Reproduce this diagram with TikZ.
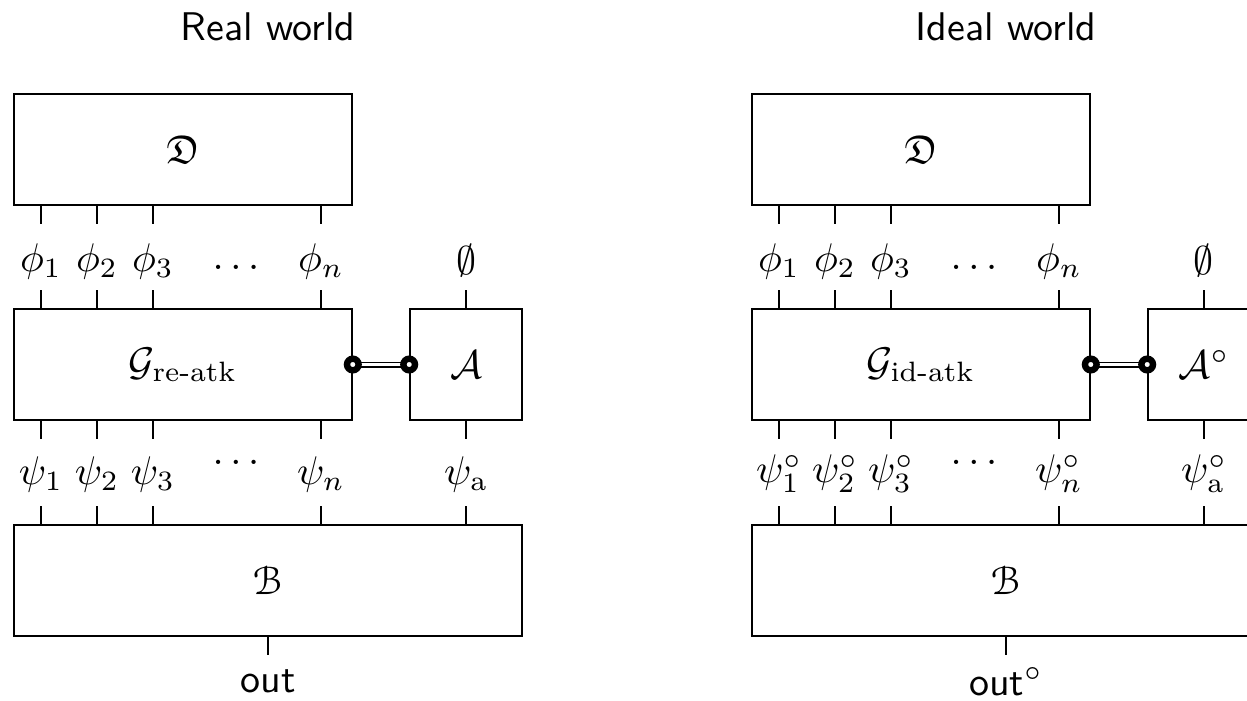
\documentclass[tikz,border=0pt]{standalone}
\usepackage{amsmath,amssymb}
\usepackage[mathscr]{euscript}
\tikzset{
  box/.style={draw, line width=0.4pt, inner sep=0pt, minimum height=27.75pt},
  lbl/.style={inner sep=0pt, anchor=center},
  sftext/.style={inner sep=0pt, anchor=base, font=\sffamily\fontsize{10}{12}\selectfont},
  tick/.style={line width=0.4pt},
  port/.style={circle, draw, fill=white, line width=1.6pt, minimum size=2.9pt, inner sep=0pt},
  link/.style={double, double distance=0.7pt, line width=0.4pt}
}
\newcommand{\worlddiagram}[8]{%
\begin{scope}[xshift=#2]
  \node[sftext] (#1title) at (268,40) {#3};
  \node[box, minimum width=84.5pt] (#1D) at (183,149.5) {$\mathfrak{D}$};
  \node[box, minimum width=84.5pt] (#1G) at (183,364.5) {$\mathcal{G}_{\text{#4}}$};
  \node[box, minimum width=28pt] (#1A) at (466,364.5) {$#5$};
  \node[box, minimum width=127pt] (#1B) at (268,580.5) {$\mathscr{B}$};
  % phi row
  \node[lbl] (#1p1) at (41,261) {$\phi_1$};
  \node[lbl] (#1p2) at (97,261) {$\phi_2$};
  \node[lbl] (#1p3) at (153,261) {$\phi_3$};
  \node[lbl] (#1pd) at (236,267) {$\ldots$};
  \node[lbl] (#1pn) at (321,261) {$\phi_n$};
  \node[lbl] (#1pe) at (466,261) {$\emptyset$};
  % psi row
  \node[lbl] (#1s1) at (41,474) {$\psi#6_1$};
  \node[lbl] (#1s2) at (97,474) {$\psi#6_2$};
  \node[lbl] (#1s3) at (153,474) {$\psi#6_3$};
  \node[lbl] (#1sd) at (236,462) {$\ldots$};
  \node[lbl] (#1sn) at (321,474) {$\psi#6_n$};
  \node[lbl] (#1sa) at (466,474) {$\psi#6_{\mathrm{a}}$};
  % out
  \node[sftext] (#1out) at (268,#8) {#7};
  % ticks
  \foreach \n in {p1,p2,p3,pn}{
    \draw[tick] (#1D.south -| #1\n) -- ++(0,18);
    \draw[tick] (#1G.north -| #1\n) -- ++(0,-18);
  }
  \draw[tick] (#1A.north -| #1pe) -- ++(0,-18);
  \foreach \n in {s1,s2,s3,sn}{
    \draw[tick] (#1G.south -| #1\n) -- ++(0,18);
    \draw[tick] (#1B.north -| #1\n) -- ++(0,-18);
  }
  \draw[tick] (#1A.south -| #1sa) -- ++(0,18);
  \draw[tick] (#1B.north -| #1sa) -- ++(0,-18);
  \draw[tick] (#1B.south -| #1out) -- ++(0,18);
  % link
  \coordinate (#1gl) at (#1G.east);
  \coordinate (#1al) at (#1A.west);
  \draw[link] (#1gl) -- (#1al);
  \node[port] (#1gp) at (#1gl) {};
  \node[port] (#1ap) at (#1al) {};
\end{scope}}
\begin{document}
\begin{tikzpicture}[x=0.25pt,y=-0.25pt]
  \useasboundingbox (0,0) rectangle (1247,700);
  \worlddiagram{r}{0pt}{Real world}{re-atk}{\mathcal{A}}{}{out}{692}
  \worlddiagram{i}{184.5pt}{Ideal world}{id-atk}{\mathcal{A}^\circ}{^\circ}{out$^\circ$}{695}
\end{tikzpicture}
\end{document}
